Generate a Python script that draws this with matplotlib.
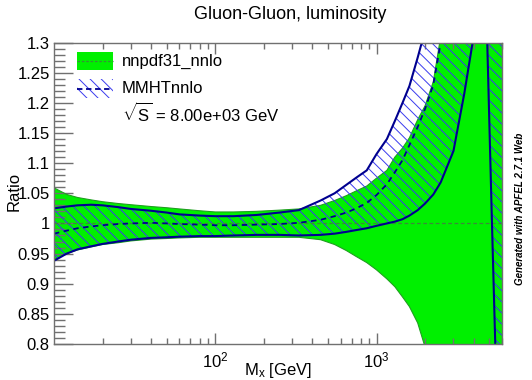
"""
Gluon-Gluon luminosity ratio, nnpdf31_nnlo vs MMHTnnlo (APFEL Web style)
"""

import matplotlib
matplotlib.use("Agg")
import matplotlib.pyplot as plt
from matplotlib.patches import Rectangle
from matplotlib.lines import Line2D
from matplotlib.ticker import FixedLocator, NullFormatter

# ─────────────────────────────────────────────────────────
# DATA
# ─────────────────────────────────────────────────────────
mass = [10, 12, 14, 17, 20, 25, 30, 40, 50, 60, 80, 100, 130, 180, 250, 330,
        450, 550, 650, 750, 870, 1000, 1160, 1300, 1450, 1600, 1800, 2000,
        2250, 2500, 3000, 3500, 4000, 4400, 4850, 5200, 5450, 6000]

nn_central = [1.0] * 38
nn_up = [1.059, 1.048, 1.043, 1.039, 1.036, 1.033, 1.031, 1.028, 1.026, 1.024,
         1.021, 1.019, 1.019, 1.020, 1.022, 1.024, 1.030, 1.038, 1.046, 1.054,
         1.062, 1.075, 1.088, 1.110, 1.125, 1.142, 1.172, 1.195, 1.235, 1.31,
         1.6, 2.0, 2.0, 2.0, 2.0, 2.0, 2.0, 2.0]
nn_lo = [0.940, 0.950, 0.956, 0.961, 0.965, 0.968, 0.971, 0.974, 0.975, 0.976,
         0.977, 0.977, 0.977, 0.977, 0.977, 0.977, 0.973, 0.965, 0.955, 0.945,
         0.935, 0.923, 0.908, 0.895, 0.878, 0.862, 0.835, 0.795, 0.6, 0.5,
         0.5, 0.5, 0.5, 0.5, 0.5, 0.5, 0.5, 0.5]

mm_central = [0.983, 0.988, 0.992, 0.995, 0.997, 0.999, 1.000, 1.001, 1.000, 0.999,
              0.998, 0.997, 0.997, 0.998, 0.999, 1.001, 1.006, 1.012, 1.018, 1.025,
              1.034, 1.047, 1.065, 1.085, 1.105, 1.13, 1.16, 1.19, 1.23, 1.30,
              1.45, 1.8, 2.2, 2.5, 2.5, 2.5, 2.5, 2.5]
mm_up = [1.025, 1.028, 1.030, 1.031, 1.030, 1.027, 1.024, 1.021, 1.018, 1.015,
         1.013, 1.012, 1.012, 1.014, 1.018, 1.022, 1.038, 1.050, 1.064, 1.076,
         1.088, 1.115, 1.140, 1.170, 1.200, 1.228, 1.275, 1.32, 1.4, 1.6,
         2.0, 2.5, 3.0, 3.0, 3.0, 3.0, 3.0, 3.0]
mm_lo = [0.938, 0.950, 0.957, 0.962, 0.966, 0.970, 0.973, 0.976, 0.977, 0.978,
         0.979, 0.979, 0.980, 0.981, 0.981, 0.980, 0.981, 0.983, 0.986, 0.989,
         0.992, 0.996, 1.000, 1.003, 1.007, 1.013, 1.022, 1.033, 1.048, 1.068,
         1.12, 1.215, 1.31, 1.6, 1.31, 1.0, 0.8, 0.6]

ytick_vals = [0.8, 0.85, 0.9, 0.95, 1.0, 1.05, 1.1, 1.15, 1.2, 1.25, 1.3]
ytick_labels = ["0.8", "0.85", "0.9", "0.95", "1", "1.05", "1.1", "1.15", "1.2", "1.25", "1.3"]
xtick_vals = [100, 1000]
xtick_labels = [r"$10^{2}$", r"$10^{3}$"]

# ─────────────────────────────────────────────────────────
# STYLE
# ─────────────────────────────────────────────────────────
plt.rcParams["font.family"] = ["Liberation Sans", "DejaVu Sans"]
plt.rcParams["mathtext.fontset"] = "custom"
plt.rcParams["mathtext.rm"] = "Liberation Sans"
plt.rcParams["mathtext.it"] = "Liberation Sans:italic"
plt.rcParams["mathtext.sf"] = "Liberation Sans"
plt.rcParams["hatch.linewidth"] = 0.7

GREEN = "#00f000"
GREEN_EDGE = "#1f9f1f"
NAVY = "#00008f"
HATCH = "#3a3aee"
FRAME = "#707070"

fig = plt.figure(figsize=(5.32, 3.80), dpi=100)
ax = fig.add_axes([0.1015, 0.0947, 0.8421, 0.7934])

# nnpdf band
ax.fill_between(mass, nn_lo, nn_up, color=GREEN, lw=0, zorder=1)
ax.plot(mass, nn_up, color=GREEN_EDGE, lw=0.8, zorder=2)
ax.plot(mass, nn_lo, color=GREEN_EDGE, lw=0.8, zorder=2)
ax.plot(mass, nn_central, color="#3a8a3a", lw=0.9, ls=(0, (3, 2)), zorder=4)

# MMHT band (hatched)
ax.fill_between(mass, mm_lo, mm_up, facecolor="none", edgecolor=HATCH,
                hatch="\\\\\\", lw=0, zorder=3)
ax.plot(mass, mm_up, color=NAVY, lw=1.5, zorder=5)
ax.plot(mass, mm_lo, color=NAVY, lw=1.5, zorder=5)
ax.plot(mass, mm_central, color=NAVY, lw=1.3, ls=(0, (3, 2.5)), zorder=5)

ax.set_xscale("log")
ax.set_xlim(10, 6000)
ax.set_ylim(0.8, 1.3)

ax.set_yticks(ytick_vals)
ax.set_yticklabels(ytick_labels, fontsize=12)
ax.yaxis.set_minor_locator(FixedLocator([0.8 + 0.01 * i for i in range(51)]))
ax.set_xticks(xtick_vals)
ax.set_xticklabels(xtick_labels, fontsize=12)
ax.xaxis.set_minor_locator(FixedLocator(
    [k * 10 for k in range(2, 10)] + [k * 100 for k in range(2, 10)]
    + [k * 1000 for k in range(2, 7)]))
ax.xaxis.set_minor_formatter(NullFormatter())

ax.tick_params(axis="y", which="major", direction="in", length=14, width=1,
               color=FRAME, pad=3, left=True, right=False)
ax.tick_params(axis="y", which="minor", direction="in", length=8, width=1,
               color=FRAME, left=True, right=False)
ax.tick_params(axis="x", which="major", direction="in", length=8, width=1,
               color=FRAME, pad=5, top=True, bottom=True)
ax.tick_params(axis="x", which="minor", direction="in", length=4, width=1,
               color=FRAME, top=True, bottom=True)
for s in ax.spines.values():
    s.set_color(FRAME)
    s.set_linewidth(1)
    s.set_zorder(10)

# títulos e rótulos
fig.text(0.545, 0.962, "Gluon-Gluon, luminosity", ha="center", va="center", fontsize=13)
fig.text(0.522, 0.025, r"M$_{\mathrm{x}}$ [GeV]", ha="center", va="center", fontsize=12)
fig.text(0.027, 0.495, "Ratio", ha="center", va="center", rotation=90, fontsize=12)
fig.text(0.978, 0.45, "Generated with APFEL 2.7.1 Web", ha="center", va="center",
         rotation=90, fontsize=7, fontweight="bold", fontstyle="italic")

# legenda manual
bx0, bx1 = 0.0513, 0.1317
ax.add_patch(Rectangle((bx0, 0.909), bx1 - bx0, 0.059, transform=ax.transAxes,
                       facecolor=GREEN, edgecolor="none", zorder=6))
ax.add_line(Line2D([bx0, bx1], [0.9385, 0.9385], transform=ax.transAxes,
                   color="#3a8a3a", lw=0.9, ls=(0, (2, 1.5)), zorder=7))
ax.add_patch(Rectangle((bx0, 0.816), bx1 - bx0, 0.062, transform=ax.transAxes,
                       facecolor="white", edgecolor=HATCH, lw=0, hatch="\\\\\\", zorder=6))
ax.add_line(Line2D([bx0, bx1], [0.847, 0.847], transform=ax.transAxes,
                   color=NAVY, lw=1.3, ls=(0, (3, 2)), zorder=7))
ax.text(0.152, 0.936, "nnpdf31_nnlo", transform=ax.transAxes, fontsize=12,
        va="center", ha="left", zorder=7)
ax.text(0.152, 0.848, "MMHTnnlo", transform=ax.transAxes, fontsize=12,
        va="center", ha="left", zorder=7)
ax.text(0.152, 0.765, r"$\sqrt{\mathrm{S}}$ = 8.00e+03 GeV", transform=ax.transAxes,
        fontsize=12, va="center", ha="left", zorder=7)

plt.savefig("out.png", dpi=100)
plt.close()
